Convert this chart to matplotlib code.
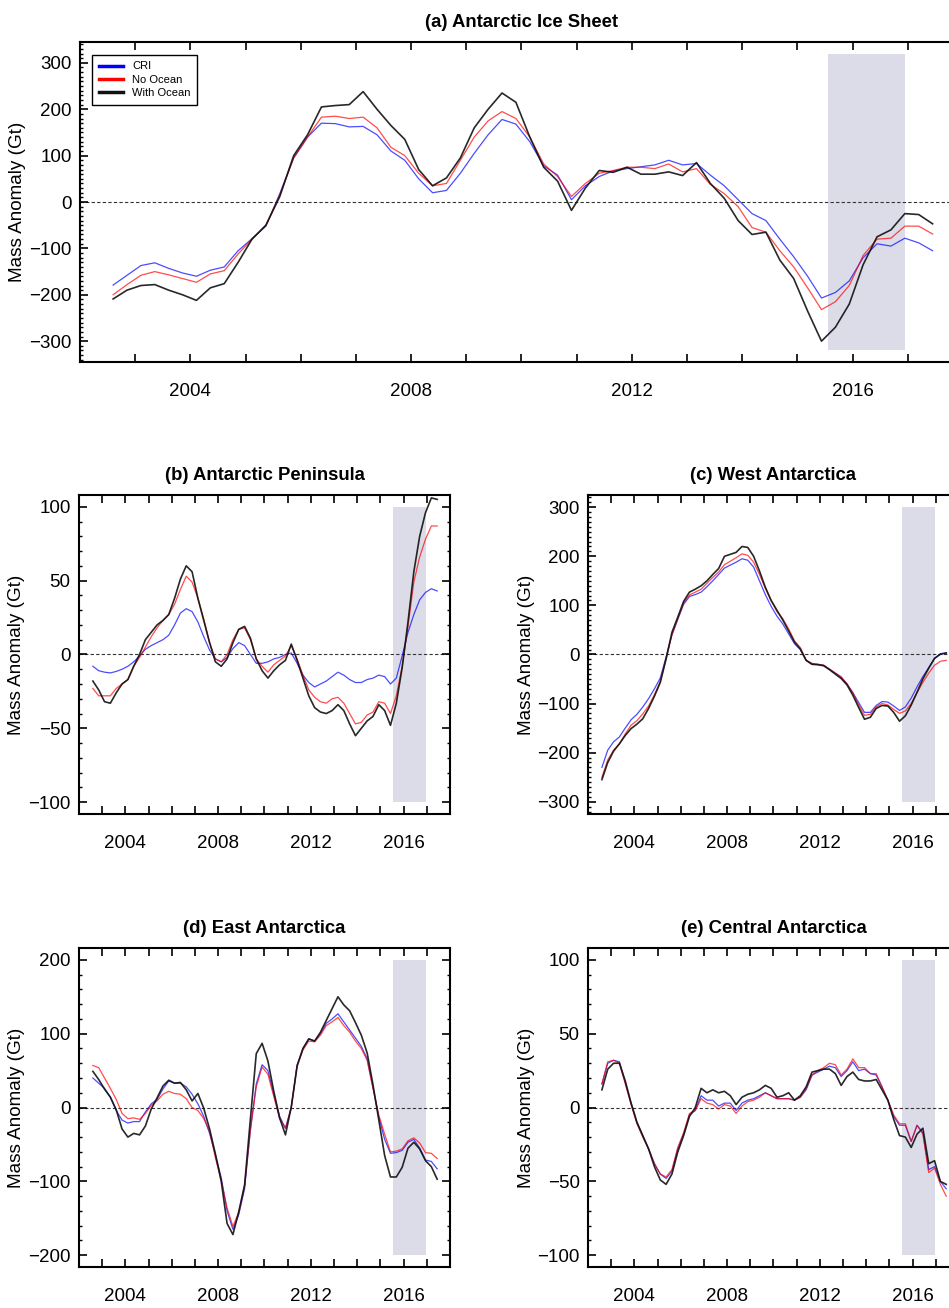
"""
Antarctic mass anomaly (Gt): CRI vs. No Ocean vs. With Ocean, five regions
"""

import numpy as np
import matplotlib
matplotlib.use('Agg')
import matplotlib.pyplot as plt
from matplotlib.lines import Line2D
from matplotlib.ticker import MultipleLocator

plt.rcParams['font.family'] = ['Liberation Sans', 'DejaVu Sans']

# Time axis (decimal year, roughly quarterly samples)
years = np.linspace(2002.6, 2017.45, 60)

# (a) Antarctic Ice Sheet
a_cri = [-179, -158, -137, -131, -143, -153, -160, -147, -140, -105,
         -79, -52, 18, 95, 140, 170, 169, 162, 163, 145,
         110, 90, 50, 20, 25, 62, 105, 145, 178, 168,
         130, 78, 58, 5, 35, 55, 67, 72, 76, 80,
         90, 80, 83, 58, 35, 5, -25, -40, -80, -118,
         -160, -207, -195, -170, -120, -90, -95, -78, -88, -105]
a_no = [-200, -178, -158, -150, -157, -165, -173, -155, -148, -112,
        -80, -50, 15, 95, 140, 183, 185, 180, 183, 160,
        118, 100, 62, 35, 40, 90, 140, 175, 195, 180,
        140, 82, 55, 12, 40, 62, 68, 75, 75, 72,
        82, 65, 72, 38, 18, -10, -55, -65, -105, -140,
        -185, -232, -215, -180, -115, -80, -78, -52, -52, -69]
a_with = [-209, -190, -180, -178, -190, -200, -212, -185, -176, -130,
          -80, -50, 12, 100, 145, 205, 208, 210, 238, 200,
          165, 135, 70, 35, 52, 95, 160, 200, 235, 215,
          140, 75, 45, -18, 30, 68, 64, 75, 60, 60,
          65, 57, 85, 40, 8, -40, -70, -65, -125, -165,
          -235, -300, -270, -220, -135, -75, -60, -25, -27, -47]

# (b) Antarctic Peninsula
b_cri = [-8, -11, -12, -12.5, -11.5, -10, -8, -5, -1, 3.5,
         6, 8, 10, 13, 20, 28, 31, 29, 22, 12,
         3, -3, -5, -2, 4, 8, 6, 0, -6, -6,
         -5, -3, -2, 0, 1, -6, -14, -19, -22, -20,
         -18, -15, -12, -14, -17, -19, -19, -17, -16, -14,
         -15, -20, -16, -1, 15, 27, 37, 42, 44.5, 43]
b_no = [-23, -28, -28, -28, -23, -20, -17, -8, -2, 5,
        12, 18, 23, 27, 34, 44, 53, 49, 38, 24,
        8, -3, -5, 0, 10, 17, 18, 10, -3, -8,
        -12, -7, -4, -1, 6, -3, -14, -24, -29, -32,
        -33, -30, -29, -33, -40, -47, -46, -41, -39, -32,
        -33, -40, -28, -8, 19, 49, 66, 78, 87, 87]
b_with = [-18, -24, -32, -33, -26, -20, -17, -8, 0, 10,
          15, 20, 23, 27, 38, 51, 60, 56, 38, 23,
          8, -5, -8, -3, 8, 17, 19, 11, -3, -11,
          -16, -11, -7, -4, 7, -4, -16, -28, -36, -39,
          -40, -38, -34, -38, -47, -55, -50, -45, -42, -34,
          -38, -48, -33, -9, 22, 56, 80, 96, 106, 105]

# (c) West Antarctica
c_cri = [-230, -195, -178, -168, -150, -133, -122, -107, -90, -70,
         -48, -5, 40, 72, 102, 118, 122, 127, 138, 150,
         163, 176, 182, 188, 195, 192, 178, 150, 122, 98,
         78, 62, 42, 22, 10, -12, -20, -20, -22, -30,
         -38, -46, -60, -78, -98, -118, -118, -104, -96, -97,
         -105, -114, -107, -89, -66, -45, -27, -8, 0, 3]
c_no = [-250, -215, -195, -182, -162, -144, -135, -121, -105, -82,
        -55, -9, 40, 72, 105, 121, 127, 133, 145, 157,
        168, 183, 190, 197, 205, 202, 188, 163, 135, 110,
        87, 73, 52, 28, 14, -12, -18, -20, -22, -30,
        -38, -46, -60, -78, -103, -124, -122, -107, -100, -103,
        -112, -120, -115, -100, -78, -57, -38, -22, -14, -12]
c_with = [-255, -220, -197, -182, -165, -151, -142, -131, -110, -85,
          -57, -9, 45, 76, 108, 127, 133, 140, 150, 163,
          175, 200, 204, 208, 220, 218, 200, 170, 137, 110,
          90, 70, 48, 25, 11, -12, -20, -21, -23, -31,
          -40, -49, -62, -83, -108, -132, -128, -110, -104, -105,
          -118, -136, -125, -103, -77, -50, -28, -8, 1, 3]

# (d) East Antarctica
d_cri = [40, 33, 26, 14, -4, -17, -21, -19, -19, -6,
         5, 11, 25, 36, 33, 33, 28, 18, 5, -12,
         -35, -64, -95, -140, -165, -145, -110, -30, 32, 58,
         50, 18, -12, -28, 0, 58, 80, 93, 90, 100,
         114, 120, 127, 116, 105, 94, 83, 66, 27, -13,
         -43, -62, -61, -58, -47, -43, -55, -71, -73, -83]
d_no = [57, 54, 40, 26, 11, -8, -15, -14, -16, -8,
        3, 9, 18, 22, 19, 18, 12, 0, -4, -15,
        -32, -68, -99, -136, -161, -142, -105, -30, 28, 55,
        45, 15, -15, -28, 0, 57, 78, 90, 89, 98,
        111, 116, 122, 111, 102, 90, 80, 64, 26, -10,
        -36, -60, -59, -56, -45, -41, -48, -61, -62, -69]
d_with = [49, 38, 25, 14, -3, -29, -40, -35, -37, -25,
          -2, 13, 29, 37, 33, 34, 24, 9, 19, -1,
          -29, -63, -100, -157, -172, -141, -105, -15, 73, 87,
          63, 22, -14, -37, 1, 56, 80, 93, 90, 102,
          118, 134, 150, 139, 131, 115, 98, 74, 31, -17,
          -65, -94, -94, -81, -55, -47, -56, -72, -80, -97]

# (e) Central Antarctica
e_cri = [16, 30, 32, 31, 17, 3, -10, -19, -28, -38,
         -45, -48, -43, -28, -18, -5, -2, 8, 5, 5,
         1, 3, 3, -2, 3, 5, 6, 8, 10, 8,
         6, 6, 6, 5, 7, 12, 22, 24, 26, 28,
         27, 21, 25, 31, 25, 26, 23, 22, 14, 5,
         -6, -12, -12, -23, -12, -17, -42, -40, -50, -55]
e_no = [16, 31, 32, 30, 16, 2, -11, -20, -28, -38,
        -45, -47, -42, -27, -17, -4, -2, 6, 3, 2,
        -1, 2, 1, -4, 1, 4, 5, 7, 10, 8,
        6, 6, 6, 5, 7, 13, 22, 25, 27, 30,
        29, 22, 26, 33, 27, 27, 23, 23, 14, 5,
        -5, -11, -11, -23, -12, -18, -44, -41, -52, -60]
e_with = [12, 26, 30, 30, 18, 3, -10, -19, -28, -40,
          -49, -52, -45, -30, -19, -6, 0, 13, 10, 12,
          10, 11, 8, 2, 7, 9, 10, 12, 15, 13,
          7, 8, 10, 5, 8, 14, 24, 25, 26, 26,
          23, 15, 21, 24, 19, 18, 18, 19, 12, 5,
          -8, -19, -20, -27, -18, -14, -38, -36, -50, -52]

# Highlighted period (El Nino 2015-2016)
shade_years = [2015.55, 2016.95]

series_labels = ['CRI', 'No Ocean', 'With Ocean']
series_colors = ['#0000ff', '#ff0000', '#111111']

panels = [
    # title, data, shade half-height, ylim, major, minor, [left, bottom, width, height], ylabel x
    ('(a) Antarctic Ice Sheet', (a_cri, a_no, a_with), 320, 345, 100, 10,
     [0.0843, 0.7232, 0.9304, 0.2447], -0.061),
    ('(b) Antarctic Peninsula', (b_cri, b_no, b_with), 100, 108, 50, 10,
     [0.0832, 0.3777, 0.3909, 0.2439], -0.145),
    ('(c) West Antarctica', (c_cri, c_no, c_with), 300, 325, 100, 10,
     [0.6196, 0.3777, 0.3909, 0.2439], -0.143),
    ('(d) East Antarctica', (d_cri, d_no, d_with), 200, 216, 100, 20,
     [0.0832, 0.0313, 0.3909, 0.2439], -0.145),
    ('(e) Central Antarctica', (e_cri, e_no, e_with), 100, 108, 50, 10,
     [0.6196, 0.0313, 0.3909, 0.2439], -0.143),
]

fig = plt.figure(figsize=(9.49, 13.08), dpi=100)

tick_years = list(range(2002, 2019))
tick_labels = [str(y) if y % 4 == 0 else '' for y in tick_years]

for i, (title, data, shade_h, ylim, major, minor, rect, ylab_x) in enumerate(panels):
    ax = fig.add_axes(rect)

    # shaded period
    ax.fill_between(shade_years, -shade_h, shade_h, color='#dcdce9', lw=0, zorder=0)

    # zero line
    ax.axhline(0, color='#333333', lw=0.8, dashes=(3, 2), zorder=1)

    for vals, color, label in zip(data, series_colors, series_labels):
        if label == 'With Ocean':
            ax.plot(years, vals, color=color, lw=1.2, alpha=0.9, zorder=4)
        else:
            ax.plot(years, vals, color=color, lw=0.9, alpha=0.7, zorder=3)

    ax.set_xlim(2002, 2018)
    ax.set_ylim(-ylim, ylim)
    ax.set_xticks(tick_years)
    ax.set_xticklabels(tick_labels)
    ax.yaxis.set_major_locator(MultipleLocator(major))
    ax.yaxis.set_minor_locator(MultipleLocator(minor))

    ax.tick_params(axis='x', which='major', direction='in', top=True, length=6,
                   width=1.2, pad=15, labelsize=13.5)
    ax.tick_params(axis='y', which='major', direction='in', right=True, length=6,
                   width=1.2, pad=6, labelsize=13.5)
    ax.tick_params(axis='y', which='minor', direction='in', right=True, length=2.5,
                   width=1.0)
    for sp in ax.spines.values():
        sp.set_linewidth(1.5)

    ax.set_title(title, fontsize=13.3, fontweight='bold', pad=11)
    ax.set_ylabel('Mass Anomaly (Gt)', fontsize=13.6)
    ax.yaxis.set_label_coords(ylab_x, 0.5)

    if i == 0:
        handles = [Line2D([0], [0], color=c, lw=2.5) for c in series_colors]
        leg = ax.legend(handles, series_labels, loc='upper left',
                        bbox_to_anchor=(0.0136, 0.96), borderaxespad=0,
                        fontsize=8, handlelength=2.2, labelspacing=0.3,
                        borderpad=0.6, fancybox=False, framealpha=1)
        leg.get_frame().set_edgecolor('black')
        leg.get_frame().set_linewidth(1.0)

plt.savefig('out.png', dpi=100)
print("saved out.png")
